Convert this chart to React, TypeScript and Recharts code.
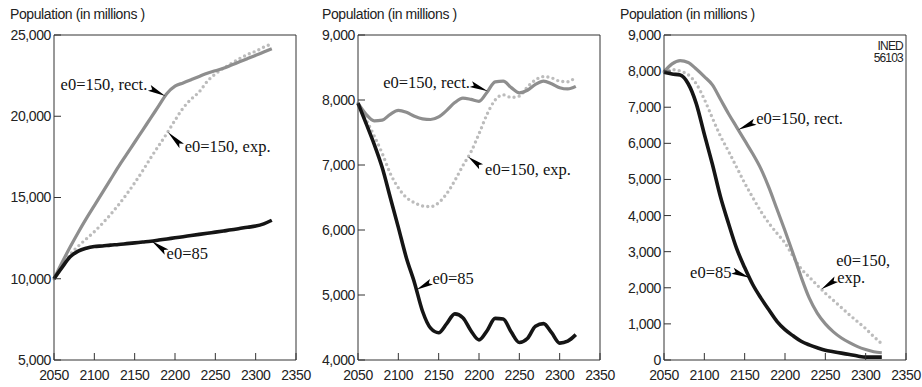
import React from "react"
import { LineChart, Line, XAxis, YAxis, ReferenceDot } from "recharts"

// years sampled every decade, 2050 -> 2320
const years = [
  2050, 2060, 2070, 2080, 2090, 2100, 2110, 2120, 2130, 2140, 2150, 2160, 2170, 2180,
  2190, 2200, 2210, 2220, 2230, 2240, 2250, 2260, 2270, 2280, 2290, 2300, 2310, 2320,
]

// left panel
const rectA = [
  10000, 11000, 11950, 12850, 13700, 14500, 15300, 16100, 16900, 17650, 18400, 19150, 19900, 20650,
  21400, 21850, 22050, 22250, 22450, 22650, 22800, 22950, 23150, 23350, 23550, 23750, 23950, 24150,
]
const expA = [
  10000, 10800, 11500, 12000, 12450, 12900, 13400, 13950, 14550, 15200, 15900, 16650, 17450, 18200,
  18950, 19750, 20500, 21050, 21500, 22150, 22600, 22950, 23250, 23550, 23800, 24000, 24250, 24450,
]
const e85A = [
  10000, 10700, 11350, 11700, 11880, 11980, 12020, 12070, 12110, 12160, 12210, 12260, 12310, 12380,
  12450, 12520, 12590, 12660, 12730, 12800, 12870, 12940, 13010, 13090, 13170, 13240, 13380, 13600,
]

// middle panel
const rectB = [
  7950, 7780, 7680, 7690, 7780, 7840, 7810, 7750, 7710, 7700, 7740, 7840, 7960, 8030,
  8010, 7980, 8120, 8280, 8290, 8190, 8110, 8150, 8240, 8290, 8250, 8190, 8170, 8210,
]
const expB = [
  7950, 7700, 7450, 7180, 6870, 6650, 6500, 6420, 6370, 6360, 6420, 6560, 6760, 6990,
  7200, 7480, 7780, 8000, 8080, 8040, 8060, 8200, 8310, 8360, 8340, 8290, 8280, 8360,
]
const e85B = [
  7950, 7640, 7320, 6960, 6500, 6040, 5570, 5190, 4750, 4490, 4420, 4560, 4710, 4650,
  4450, 4310, 4450, 4640, 4630, 4430, 4270, 4330, 4520, 4560, 4420, 4260, 4290, 4390,
]

// right panel
const rectC = [
  7980, 8200, 8290, 8240, 8060, 7850, 7620, 7220, 6820, 6450, 6080, 5710, 5300, 4780,
  4180, 3580, 2950, 2300, 1720, 1300, 1000, 780, 610, 480, 370, 290, 230, 200,
]
const expC = [
  7980, 8040, 8000, 7900, 7650, 7220, 6700, 6200, 5780, 5340, 4900, 4500, 4120, 3790,
  3510, 3240, 2870, 2530, 2300, 2070, 1850, 1650, 1450, 1250, 1060, 870, 650, 450,
]
const e85C = [
  7970, 7920, 7890, 7650, 7100, 6250, 5420, 4520, 3780, 3090, 2560, 2090, 1720, 1390,
  1070, 840, 670, 520, 420, 340, 270, 230, 190, 150, 110, 80, 80, 80,
]

const xTicks = [2050, 2100, 2150, 2200, 2250, 2300, 2350]
const yTicksA = [5000, 10000, 15000, 20000, 25000]
const yTicksB = [4000, 5000, 6000, 7000, 8000, 9000]
const yTicksC = [0, 1000, 2000, 3000, 4000, 5000, 6000, 7000, 8000, 9000]

const GREY = "#8e8e8e"
const LIGHT = "#bcbcbc"
const BLACK = "#151515"
const AXIS = "#333"
const SANS = "'Liberation Sans', Arial, sans-serif"
const SERIF = "'Liberation Serif', 'Times New Roman', serif"

type Key = "rect" | "exp" | "e85"
type Note = {
  key: Key
  year: number
  lines: string[]
  bx: number // arrow back, px from the tip
  by: number
  tx: number // text anchor, px from the tip
  ty: number
  anchor: "start" | "end"
}

const notesA: Note[] = [
  { key: "rect", year: 2188, lines: ["e0=150, rect."], bx: -16, by: -8, tx: -18, ty: -6, anchor: "end" },
  { key: "exp", year: 2191, lines: ["e0=150, exp."], bx: 14, by: 14, tx: 17, ty: 20, anchor: "start" },
  { key: "e85", year: 2171, lines: ["e0=85"], bx: 15, by: 11, tx: 15, ty: 18, anchor: "start" },
]
const notesB: Note[] = [
  { key: "rect", year: 2211, lines: ["e0=150, rect."], bx: -17, by: -7, tx: -18, ty: -3, anchor: "end" },
  { key: "exp", year: 2186.5, lines: ["e0=150, exp."], bx: 13, by: 10, tx: 17, ty: 18, anchor: "start" },
  { key: "e85", year: 2122.5, lines: ["e0=85"], bx: 15, by: -8, tx: 16, ty: -6, anchor: "start" },
]
const notesC: Note[] = [
  { key: "rect", year: 2142, lines: ["e0=150, rect."], bx: 17, by: -8, tx: 18, ty: -6, anchor: "start" },
  { key: "exp", year: 2245, lines: ["e0=150,", "exp."], bx: 15, by: -10, tx: 15, ty: -23, anchor: "start" },
  { key: "e85", year: 2156, lines: ["e0=85"], bx: -17, by: -7, tx: -18, ty: 0, anchor: "end" },
]

const valueAt = (vals: number[], year: number) => {
  for (let i = 0; i < years.length - 1; i++) {
    if (year >= years[i] && year <= years[i + 1]) {
      const t = (year - years[i]) / (years[i + 1] - years[i])
      return vals[i] + (vals[i + 1] - vals[i]) * t
    }
  }
  return vals[vals.length - 1]
}

function Pointer(props: any) {
  const { cx, cy, note } = props
  if (cx == null || cy == null) return null
  const len = Math.hypot(note.bx, note.by)
  const nx = -note.by / len
  const ny = note.bx / len
  const bx = cx + note.bx
  const by = cy + note.by
  const mx = cx + note.bx * 0.82
  const my = cy + note.by * 0.82
  const w = 3.2
  const pts = [
    [cx, cy],
    [bx + nx * w, by + ny * w],
    [mx, my],
    [bx - nx * w, by - ny * w],
  ]
  return (
    <g>
      <polygon points={pts.map((p) => p.join(",")).join(" ")} fill="#000" />
      <text
        x={cx + note.tx}
        y={cy + note.ty}
        textAnchor={note.anchor}
        fontFamily={SERIF}
        fontSize={16.5}
        fill="#111"
      >
        {note.lines.map((l: string, i: number) => (
          <tspan key={i} x={cx + note.tx + (i > 0 ? 1 : 0)} dy={i === 0 ? 0 : 17}>
            {l}
          </tspan>
        ))}
      </text>
    </g>
  )
}

const fmt = (v: number) => v.toLocaleString("en-US")
const tickStyle = { fontSize: 14, fill: "#222", fontFamily: SANS, letterSpacing: -0.4 }

function Panel(props: {
  left: number
  width: number
  rect: number[]
  exp: number[]
  e85: number[]
  yTicks: number[]
  notes: Note[]
}) {
  const { left, width, rect, exp, e85, yTicks, notes } = props
  const data = years.map((year, i) => ({ year, rect: rect[i], exp: exp[i], e85: e85[i] }))
  const series: Record<Key, number[]> = { rect, exp, e85 }
  const domain: [number, number] = [yTicks[0], yTicks[yTicks.length - 1]]
  return (
    <div style={{ position: "absolute", left, top: 0 }}>
      <LineChart
        width={width}
        height={387}
        data={data}
        margin={{ top: 34, right: width - 297, bottom: 7, left: 0 }}
      >
        <XAxis
          dataKey="year"
          type="number"
          domain={[2050, 2350]}
          ticks={xTicks}
          interval={0}
          height={20}
          tickSize={-7}
          tickMargin={17}
          tick={tickStyle}
          axisLine={{ stroke: AXIS }}
          tickLine={{ stroke: AXIS }}
        />
        <XAxis
          xAxisId="top"
          orientation="top"
          dataKey="year"
          type="number"
          domain={[2050, 2350]}
          ticks={xTicks}
          interval={0}
          height={1}
          tickSize={-7}
          tick={false}
          axisLine={{ stroke: AXIS }}
          tickLine={{ stroke: AXIS }}
        />
        <YAxis
          type="number"
          domain={domain}
          ticks={yTicks}
          interval={0}
          width={54}
          tickSize={-7}
          tickMargin={10}
          tickFormatter={fmt}
          tick={tickStyle}
          axisLine={{ stroke: AXIS }}
          tickLine={{ stroke: AXIS }}
        />
        <YAxis
          yAxisId="r"
          orientation="right"
          type="number"
          domain={domain}
          ticks={yTicks}
          interval={0}
          width={1}
          tickSize={-7}
          tick={false}
          axisLine={{ stroke: AXIS }}
          tickLine={{ stroke: AXIS }}
        />
        <Line
          dataKey="exp"
          type="monotone"
          stroke={LIGHT}
          strokeWidth={3.4}
          strokeDasharray="0 5.2"
          strokeLinecap="round"
          dot={false}
          isAnimationActive={false}
        />
        <Line
          dataKey="rect"
          type="monotone"
          stroke={GREY}
          strokeWidth={3.2}
          dot={false}
          isAnimationActive={false}
        />
        <Line
          dataKey="e85"
          type="monotone"
          stroke={BLACK}
          strokeWidth={3.6}
          dot={false}
          isAnimationActive={false}
        />
        {notes.map((n) => (
          <ReferenceDot
            key={n.key}
            x={n.year}
            y={valueAt(series[n.key], n.year)}
            r={0}
            shape={(p: any) => <Pointer {...p} note={n} />}
          />
        ))}
      </LineChart>
    </div>
  )
}

export default function App() {
  return (
    <div style={{ position: "absolute", left: 0, top: 0, width: 922, height: 387, background: "#fff" }}>
      <Panel left={0} width={320} rect={rectA} exp={expA} e85={e85A} yTicks={yTicksA} notes={notesA} />
      <Panel left={304} width={320} rect={rectB} exp={expB} e85={e85B} yTicks={yTicksB} notes={notesB} />
      <Panel left={610} width={312} rect={rectC} exp={expC} e85={e85C} yTicks={yTicksC} notes={notesC} />
      <svg width={922} height={387} style={{ position: "absolute", left: 0, top: 0, pointerEvents: "none" }}>
        <g fontFamily={SANS} fontSize={14} letterSpacing={-0.4} fill="#222">
          <text x={10} y={19}>Population (in millions )</text>
          <text x={322} y={19}>Population (in millions )</text>
          <text x={620} y={19}>Population (in millions )</text>
        </g>
        <g fontFamily={SANS} fontSize={12} letterSpacing={-0.8} fill="#222" textAnchor="end">
          <text x={903} y={50}>INED</text>
          <text x={903} y={62}>56103</text>
        </g>
      </svg>
    </div>
  )
}
